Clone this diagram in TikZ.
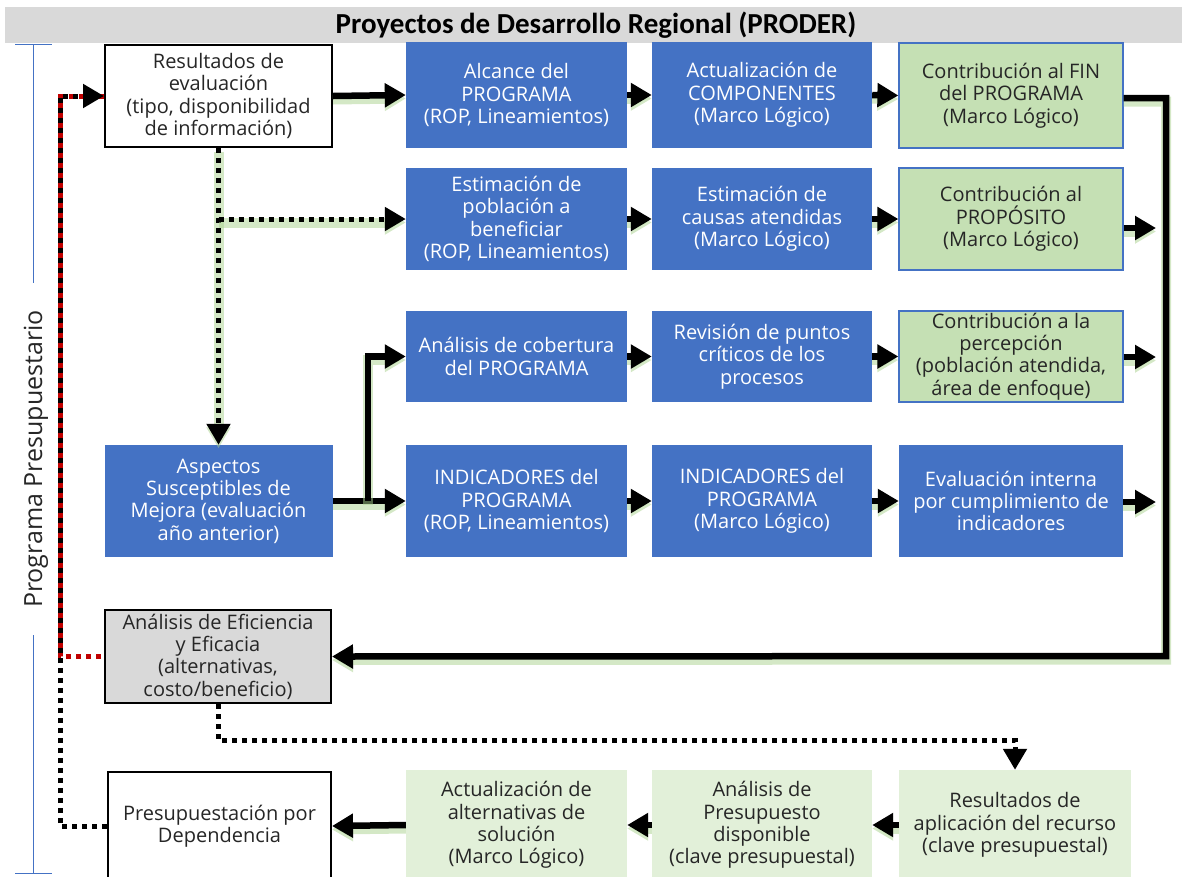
\documentclass[tikz,border=0pt]{standalone}
\usepackage{fontspec}
\setmainfont{Open Sans}
\newfontfamily\titlefont{Carlito}
\usetikzlibrary{arrows.meta,calc}
\definecolor{pblue}{HTML}{4472C4}
\definecolor{pgreen}{HTML}{C5E0B4}
\definecolor{plight}{HTML}{E2F0D9}
\definecolor{pgray}{HTML}{D9D9D9}
\definecolor{ptxt}{HTML}{262626}
\definecolor{pglow}{HTML}{A9D18E}
\definecolor{pred}{HTML}{C00000}
\tikzset{
  box/.style={rectangle, inner sep=1pt, align=center, font=\fontsize{20}{22.3}\selectfont},
  bluebox/.style={box, fill=pblue, text=white},
  greenbox/.style={box, fill=pgreen, draw=pblue, line width=1.2pt, text=ptxt},
  lgbox/.style={box, fill=plight, text=ptxt},
  whitebox/.style={box, fill=white, draw=black, line width=2pt, text=ptxt},
  graybox/.style={box, fill=pgray, draw=black, line width=2pt, text=ptxt},
  tip/.style={-{Triangle[length=21pt,width=23pt]}},
  glow/.style={preaction={draw=pglow, line width=10pt, opacity=0.5, transform canvas={yshift=-3.5pt}}},
  conn/.style={line width=6.5pt, tip, line join=miter, glow},
  dotline/.style={line width=5pt, dash pattern=on 5pt off 5pt},
  dotconn/.style={dotline, tip},
}
\begin{document}
\begin{tikzpicture}[x=1pt,y=-1pt]
\useasboundingbox (0,0) rectangle (1182,876);
% title
\fill[pgray] (5,7) rectangle (1182,43);
\node[font=\titlefont\bfseries\fontsize{29}{32}\selectfont, text=black] (title) at (596,25) {Proyectos de Desarrollo Regional (PRODER)};
% bracket
\draw[pblue, line width=1pt] (15,44) -- (52,44) (33,44) -- (33,283) (33,635) -- (33,873) (15,873) -- (52,873);
\node[rotate=90, font=\fontsize{25}{28}\selectfont, text=ptxt] (lbl) at (36,459) {Programa Presupuestario};
% row 1
\node[whitebox, minimum width=227pt, minimum height=102pt] (res) at (218.5,96) {Resultados de\\evaluación\\(tipo, disponibilidad\\de información)};
\node[bluebox, minimum width=221pt, minimum height=106pt] (alc) at (516.5,95) {Alcance del\\PROGRAMA\\(ROP, Lineamientos)};
\node[bluebox, minimum width=220pt, minimum height=106pt] (act) at (762,95) {Actualización de\\COMPONENTES\\(Marco Lógico)};
\node[greenbox, minimum width=224pt, minimum height=105pt] (fin) at (1011,95.5) {Contribución al FIN\\del PROGRAMA\\(Marco Lógico)};
% row 2
\node[bluebox, minimum width=221pt, minimum height=102pt] (epb) at (516.5,219) {Estimación de\\población a\\beneficiar\\(ROP, Lineamientos)};
\node[bluebox, minimum width=220pt, minimum height=102pt] (eca) at (762,219) {Estimación de\\causas atendidas\\(Marco Lógico)};
\node[greenbox, minimum width=224pt, minimum height=102pt] (pro) at (1011,219) {Contribución al\\PROPÓSITO\\(Marco Lógico)};
% row 3
\node[bluebox, minimum width=221pt, minimum height=91pt] (acp) at (516.5,356.5) {Análisis de cobertura\\del PROGRAMA};
\node[bluebox, minimum width=220pt, minimum height=91pt] (rev) at (762,356.5) {Revisión de puntos\\críticos de los\\procesos};
\node[greenbox, minimum width=224pt, minimum height=91pt] (per) at (1011,356.5) {Contribución a la\\percepción\\(población atendida,\\área de enfoque)};
% row 4
\node[bluebox, minimum width=228pt, minimum height=112pt] (asm) at (218.5,501) {Aspectos\\Susceptibles de\\Mejora (evaluación\\año anterior)};
\node[bluebox, minimum width=221pt, minimum height=112pt] (ind1) at (516.5,501) {INDICADORES del\\PROGRAMA\\(ROP, Lineamientos)};
\node[bluebox, minimum width=220pt, minimum height=112pt] (ind2) at (762,501) {INDICADORES del\\PROGRAMA\\(Marco Lógico)};
\node[bluebox, minimum width=224pt, minimum height=112pt] (evi) at (1011,501) {Evaluación interna\\por cumplimiento de\\indicadores};
% row 5
\node[graybox, minimum width=226pt, minimum height=93pt] (aef) at (218,656.5) {Análisis de Eficiencia\\y Eficacia\\(alternativas,\\costo/beneficio)};
% row 6
\node[whitebox, minimum width=223pt, minimum height=108pt] (pres) at (219.5,826) {Presupuestación por\\Dependencia};
\node[lgbox, minimum width=221pt, minimum height=110pt] (aal) at (516.5,825) {Actualización de\\alternativas de\\solución\\(Marco Lógico)};
\node[lgbox, minimum width=220pt, minimum height=110pt] (apd) at (762,825) {Análisis de\\Presupuesto\\disponible\\(clave presupuestal)};
\node[lgbox, minimum width=232pt, minimum height=110pt] (rap) at (1015,825) {Resultados de\\aplicación del recurso\\(clave presupuestal)};
% coordinates
\coordinate (e2) at (1156,228);
\coordinate (e3) at (1156,357);
\coordinate (e4) at (1156,502);
\coordinate (lp1) at (1166,98);
\coordinate (lp2) at (1166,656);
\coordinate (bx) at (368,0);
\coordinate (L1) at (60,96);
\coordinate (d1) at (0,740);
% solid connectors
\draw[conn] (res.east) -- (alc.west);
\draw[conn] (alc.east) -- (act.west);
\draw[conn] (act.east) -- (fin.west);
\draw[conn] ([yshift=-2.5pt]fin.east) -- (lp1) -- (lp2) -- (aef.east);
\draw[conn] (epb.east) -- (eca.west);
\draw[conn] (eca.east) -- (pro.west);
\draw[conn] (pro.east |- e2) -- (e2);
\draw[conn] (acp.east) -- (rev.west);
\draw[conn] (rev.east) -- (per.west);
\draw[conn] (per.east |- e3) -- (e3);
\draw[conn] (asm.east) -- (ind1.west);
\draw[conn] (asm.east -| bx) -- (acp.west -| bx) -- (acp.west);
\draw[conn] (ind1.east) -- (ind2.west);
\draw[conn] (ind2.east) -- (evi.west);
\draw[conn] (evi.east |- e4) -- (e4);
\draw[conn] (rap.west) -- (apd.east);
\draw[conn] (apd.west) -- (aal.east);
\draw[conn] (aal.west) -- (pres.east);
% dotted connectors
\draw[dotconn, glow] (res.south) -- (asm.north);
\draw[dotconn, glow] (res.south |- epb.west) -- (epb.west);
\draw[dotconn] (aef.south) -- (aef.south |- d1) -- (rap.north |- d1) -- (rap.north);
\draw[dotline, draw=pred, dash phase=7pt] (aef.west) -- (aef.west -| L1) -- (L1) -- (res.west);
\draw[dotconn] (pres.west) -- (pres.west -| L1) -- (L1) -- (res.west);
\end{tikzpicture}
\end{document}
